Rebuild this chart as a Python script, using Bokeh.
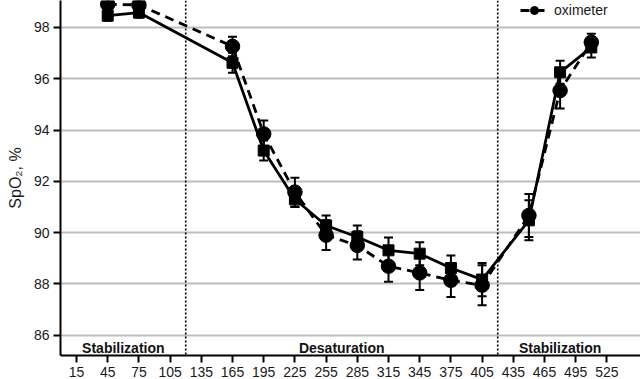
from bokeh.plotting import figure
from bokeh.models import (Range1d, FixedTicker, Whisker, ColumnDataSource, Span,
                          Legend, LegendItem, TeeHead)
from bokeh.core.properties import value
from bokeh.embed import file_html
from bokeh.resources import INLINE

# ---- data ----
time_s = [45, 75, 165, 195, 225, 255, 285, 315, 345, 375, 405, 450, 480, 510]
reference_spo2 = [98.46, 98.58, 96.62, 93.20, 91.30, 90.28, 89.83, 89.31, 89.18,
                  88.62, 88.17, 90.48, 96.25, 97.22]
reference_err = [0.20, 0.20, 0.39, 0.39, 0.30, 0.39, 0.45, 0.50, 0.45, 0.49,
                 0.65, 0.78, 0.45, 0.39]
oximeter_spo2 = [98.90, 98.88, 97.26, 93.85, 91.58, 89.90, 89.50, 88.69, 88.43,
                 88.14, 87.95, 90.67, 95.54, 97.42]
oximeter_err = [0.20, 0.20, 0.38, 0.52, 0.56, 0.58, 0.55, 0.60, 0.67, 0.65,
                0.78, 0.84, 0.70, 0.33]
x_ticks = list(range(15, 526, 30))
y_ticks = [86, 88, 90, 92, 94, 96, 98, 100]
phase_bounds = [0, 120, 420, 540]
phase_names = ["Stabilization", "Desaturation", "Stabilization"]

FONT = "Liberation Sans"

p = figure(width=640, height=379, output_backend="svg", toolbar_location=None,
           x_range=Range1d(-0.4, 557.3), y_range=Range1d(85.21, 99.05),
           min_border_left=60, min_border_right=0, min_border_top=0,
           min_border_bottom=0, outline_line_color=None,
           background_fill_color="white", border_fill_color="white")

# grid
p.xgrid.grid_line_color = None
p.ygrid.grid_line_color = "#bdbdbd"
p.ygrid.grid_line_width = 2

# axes
for ax in (p.xaxis[0], p.yaxis[0]):
    ax.axis_line_color = "black"
    ax.axis_line_width = 2
    ax.major_tick_line_color = "black"
    ax.major_tick_line_width = 2
    ax.major_tick_out = 7
    ax.major_tick_in = 0
    ax.minor_tick_line_color = None
    ax.major_label_text_font = FONT
    ax.major_label_text_font_size = "14px"
    ax.major_label_text_color = "#1a1a1a"
    ax.major_label_standoff = 4

p.xaxis.ticker = FixedTicker(ticks=x_ticks)
p.yaxis.ticker = FixedTicker(ticks=y_ticks)
p.yaxis.axis_label = "SpO\u2082, %"
p.yaxis.axis_label_text_font = FONT
p.yaxis.axis_label_text_font_size = "16px"
p.yaxis.axis_label_text_font_style = "normal"
p.yaxis.axis_label_text_color = "#1a1a1a"
p.yaxis.axis_label_standoff = 7

# phase separators
for b in phase_bounds[1:-1]:
    p.add_layout(Span(location=b, dimension="height", line_color="black",
                      line_width=1.6, line_dash="2 2"))

# phase labels
mids = [(phase_bounds[i] + phase_bounds[i + 1]) / 2 for i in range(len(phase_names))]
p.text(x=mids, y=[85.52] * len(mids), text=phase_names,
       text_font=value(FONT), text_font_style="bold", text_font_size="14px",
       text_align="center", text_baseline="middle", text_color="#111111")

src_ref = ColumnDataSource(dict(
    x=time_s, y=reference_spo2,
    lo=[v - e for v, e in zip(reference_spo2, reference_err)],
    hi=[v + e for v, e in zip(reference_spo2, reference_err)]))
src_oxi = ColumnDataSource(dict(
    x=time_s, y=oximeter_spo2,
    lo=[v - e for v, e in zip(oximeter_spo2, oximeter_err)],
    hi=[v + e for v, e in zip(oximeter_spo2, oximeter_err)]))

# lines
p.line("x", "y", source=src_ref, line_color="black", line_width=2.8)
oxi_line = p.line("x", "y", source=src_oxi, line_color="black", line_width=2.8,
                  line_dash="9 6")

# error bars
for src in (src_ref, src_oxi):
    p.add_layout(Whisker(source=src, base="x", lower="lo", upper="hi",
                         line_color="black", line_width=2,
                         upper_head=TeeHead(size=9, line_color="black", line_width=2),
                         lower_head=TeeHead(size=9, line_color="black", line_width=2)))

# markers
p.scatter("x", "y", source=src_ref, marker="square", size=11,
          fill_color="black", line_color="black")
oxi_pts = p.scatter("x", "y", source=src_oxi, marker="circle", size=14.5,
                    fill_color="black", line_color="black")

legend = Legend(items=[LegendItem(label="oximeter", renderers=[oxi_line, oxi_pts])],
                location=(460, 335), padding=0, margin=0, spacing=0,
                glyph_width=28, glyph_height=20, label_height=20, label_standoff=6,
                label_text_font=FONT, label_text_font_size="14px",
                label_text_color="#1a1a1a",
                background_fill_alpha=0, border_line_color=None)
p.add_layout(legend)

open("out.html", "w").write(file_html(p, INLINE))
